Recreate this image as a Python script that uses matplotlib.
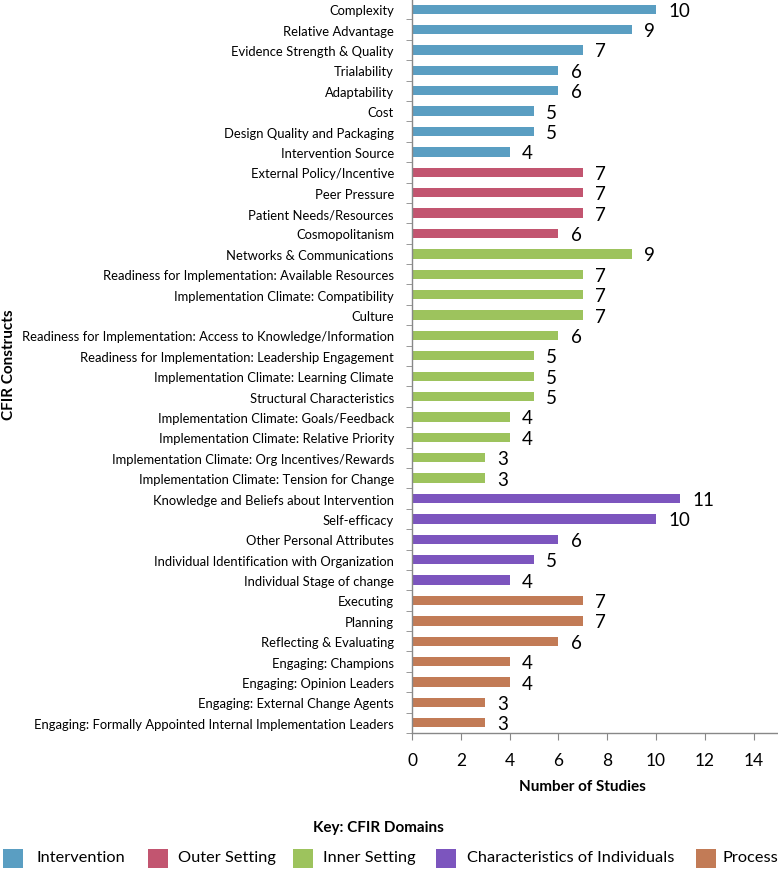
import matplotlib
matplotlib.use("Agg")
import matplotlib.pyplot as plt
from matplotlib.patches import Rectangle
import numpy as np

plt.rcParams['font.family'] = ['Lato', 'DejaVu Sans']

constructs = [
    "Complexity", "Relative Advantage", "Evidence Strength & Quality", "Trialability",
    "Adaptability", "Cost", "Design Quality and Packaging", "Intervention Source",
    "External Policy/Incentive", "Peer Pressure", "Patient Needs/Resources", "Cosmopolitanism",
    "Networks & Communications", "Readiness for Implementation: Available Resources",
    "Implementation Climate: Compatibility", "Culture",
    "Readiness for Implementation: Access to Knowledge/Information",
    "Readiness for Implementation: Leadership Engagement",
    "Implementation Climate: Learning Climate", "Structural Characteristics",
    "Implementation Climate: Goals/Feedback", "Implementation Climate: Relative Priority",
    "Implementation Climate: Org Incentives/Rewards", "Implementation Climate: Tension for Change",
    "Knowledge and Beliefs about Intervention", "Self-efficacy", "Other Personal Attributes",
    "Individual Identification with Organization", "Individual Stage of change",
    "Executing", "Planning", "Reflecting & Evaluating", "Engaging: Champions",
    "Engaging: Opinion Leaders", "Engaging: External Change Agents",
    "Engaging: Formally Appointed Internal Implementation Leaders",
]
studies = [10, 9, 7, 6, 6, 5, 5, 4,
           7, 7, 7, 6,
           9, 7, 7, 7, 6, 5, 5, 5, 4, 4, 3, 3,
           11, 10, 6, 5, 4,
           7, 7, 6, 4, 4, 3, 3]
domain_of = ([0] * 8) + ([1] * 4) + ([2] * 12) + ([3] * 5) + ([4] * 7)
domains = ["Intervention", "Outer Setting", "Inner Setting",
           "Characteristics of Individuals", "Process"]
domain_colors = ["#5A9EC2", "#C25570", "#9DC35D", "#7C55BE", "#C27B56"]

W, H = 778, 870
fig = plt.figure(figsize=(W / 100, H / 100), dpi=100)
ax = fig.add_axes([412 / W, 1 - 734 / H, 366 / W, 734 / H])

y = np.arange(len(constructs))
colors = [domain_colors[d] for d in domain_of]
ax.barh(y, studies, height=0.46, color=colors, zorder=2)
for yi, v in zip(y, studies):
    ax.text(v + 0.5, yi + 0.05, str(v), va='center', ha='left', fontsize=13.5, color='black')

ax.set_ylim(len(constructs) - 0.5, -0.5)
ax.set_xlim(0, 15)
ax.set_xticks(np.arange(0, 15, 2))
ax.set_xticklabels([str(t) for t in range(0, 15, 2)], fontsize=12.5)
ax.set_yticks(y)
ax.set_yticklabels(constructs, fontsize=9.35)
ax.tick_params(axis='y', length=0, pad=13)
ax.set_yticks(np.arange(-0.5, len(constructs), 1), minor=True)
ax.tick_params(axis='y', which='minor', length=4, color='#888888', direction='out')
ax.tick_params(axis='x', length=5, color='#888888', direction='out', pad=9)

for s in ['top', 'right']:
    ax.spines[s].set_visible(False)
for s in ['left', 'bottom']:
    ax.spines[s].set_color('#888888')
    ax.spines[s].set_linewidth(1.0)

ax.set_xlabel("Number of Studies", fontsize=11, fontweight='bold')
ax.xaxis.set_label_coords((582 - 412) / 366, -(780 - 734) / 734)
fig.text(9 / W, 1 - 365 / H, "CFIR Constructs", rotation=90, fontsize=11, fontweight='bold',
         ha='center', va='center')

fig.text(378 / W, 1 - 828 / H, "Key: CFIR Domains", fontsize=11, fontweight='bold',
         ha='center', va='center')
patch_x = [3, 148, 293, 436, 696]
text_x = [36, 178, 323, 467, 723]
for px, tx, name, c in zip(patch_x, text_x, domains, domain_colors):
    fig.patches.append(Rectangle((px / W, 1 - 869 / H), 20 / W, 19 / H,
                                 transform=fig.transFigure, facecolor=c, edgecolor='none'))
    fig.text(tx / W, 1 - 858 / H, name, fontsize=11.8, ha='left', va='center')

fig.savefig("out.png", dpi=100)
